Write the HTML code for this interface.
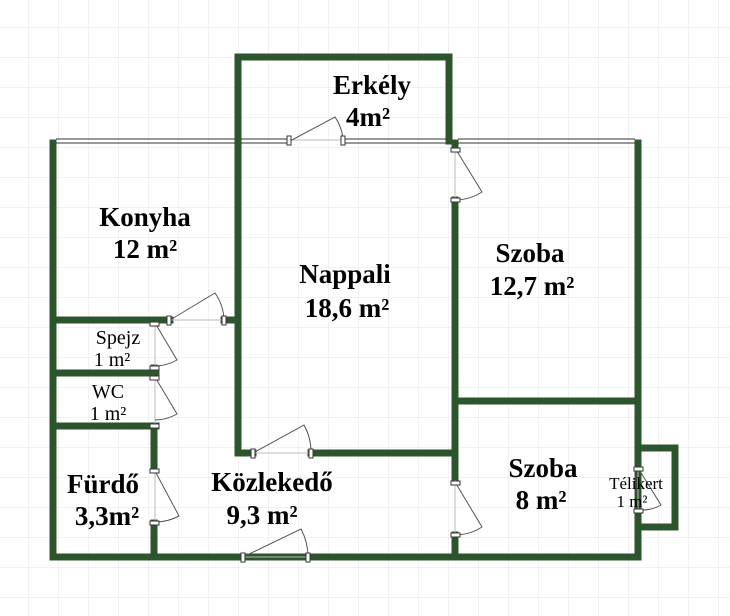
<!DOCTYPE html>
<html><head><meta charset="utf-8"><style>
body{margin:0;background:#fff}
svg{display:block}
text{font-family:"Liberation Serif",serif;fill:#000;text-anchor:middle}
.b{font-weight:bold;font-size:27px}
.n{font-size:20px}
</style></head><body>
<svg width="730" height="616" viewBox="0 0 730 616" xmlns="http://www.w3.org/2000/svg">
<defs>
<pattern id="g" x="28" y="27" width="30" height="30" patternUnits="userSpaceOnUse">
<path d="M0 0H30M0 0V30" stroke="#e4e4e4" stroke-width="1" fill="none"/>
</pattern>
</defs>
<rect width="730" height="616" fill="url(#g)"/>
<g stroke="#2d552d" stroke-width="7" fill="none" stroke-linecap="square">
<path d="M53 143V557H638V143"/>
<path d="M238 453V57H449V141"/>
<path d="M238 453H253M311 453H455"/>
<path d="M455 200V480M455 535V557"/>
<path d="M455 143V148"/>
<path d="M455 401H638"/>
<path d="M638 448H675V527H638"/>
<path d="M638 448V468M638 510V557"/>
<path d="M53 320H170M224 320H238"/>
<path d="M53 373H156M53 426H156"/>
<path d="M154 426V470M154 523V557"/>
<path d="M154 368V376"/>
</g>
<g stroke="#333" stroke-width="1" fill="none">
<path d="M56 139H235M56 143H235M241 139H290M241 143H290M343 139H446M343 143H446M458 139H635M458 143H635"/>
</g>
<g stroke="#bbb" stroke-width="1" fill="none">
<path d="M290 140H343M170 320H224M253 453H311M243 557H308M155 322V368M155 376V424M155 470V523M455 148V200M455 480V535M638 468V510"/>
</g>
<g stroke="#555" stroke-width="1" fill="none">
<path d="M290 141L335 117A45 45 0 0 1 343 141"/>
<path d="M170 320L215 293A50 50 0 0 1 224 320"/>
<path d="M253 453L304 425A55 55 0 0 1 311 453"/>
<path d="M243 557L301 529A60 60 0 0 1 308 557"/>
<path d="M155 323L177 360A45 45 0 0 1 155 366"/>
<path d="M155 377L177 414A45 45 0 0 1 155 420"/>
<path d="M155 471L179 516A50 50 0 0 1 155 522"/>
<path d="M455 148L482 192A50 50 0 0 1 455 200"/>
<path d="M455 482L482 527A50 50 0 0 1 455 535"/>
<path d="M638 468L661 505A40 40 0 0 1 638 510"/>
</g>
<g fill="#fff" stroke="#333" stroke-width="1">
<rect x="287" y="136" width="4" height="9"/><rect x="341" y="136" width="4" height="9"/>
<rect x="167" y="316" width="4" height="9"/><rect x="222" y="316" width="4" height="9"/>
<rect x="251" y="449" width="4" height="9"/><rect x="309" y="449" width="4" height="9"/>
<rect x="241" y="553" width="4" height="9"/><rect x="306" y="553" width="4" height="9"/>
<rect x="150" y="322" width="9" height="4"/><rect x="150" y="366" width="9" height="4"/>
<rect x="150" y="376" width="9" height="4"/><rect x="150" y="424" width="9" height="4"/>
<rect x="150" y="469" width="9" height="4"/><rect x="150" y="521" width="9" height="4"/>
<rect x="451" y="148" width="9" height="4"/><rect x="451" y="198" width="9" height="4"/>
<rect x="451" y="481" width="9" height="4"/><rect x="451" y="533" width="9" height="4"/>
<rect x="634" y="467" width="9" height="4"/><rect x="634" y="509" width="9" height="4"/>
</g>
<text class="b" x="372" y="94">Erkély</text>
<text class="b" x="368" y="126">4m²</text>
<text class="b" x="145" y="226">Konyha</text>
<text class="b" x="145" y="258">12 m²</text>
<text class="b" x="345" y="283">Nappali</text>
<text class="b" x="347" y="317">18,6 m²</text>
<text class="b" x="530" y="262">Szoba</text>
<text class="b" x="532" y="295">12,7 m²</text>
<text class="n" x="118" y="344">Spejz</text>
<text class="n" x="112" y="366">1 m²</text>
<text class="n" x="108" y="398">WC</text>
<text class="n" x="108" y="420">1 m²</text>
<text class="b" x="103" y="493">Fürdő</text>
<text class="b" x="107" y="525">3,3m²</text>
<text class="b" x="272" y="491">Közlekedő</text>
<text class="b" x="262" y="524">9,3 m²</text>
<text class="b" x="543" y="477">Szoba</text>
<text class="b" x="541" y="509">8 m²</text>
<text x="636" y="489" style="font-size:17px">Télikert</text>
<text x="632" y="507" style="font-size:17px">1 m²</text>
</svg>
</body></html>
